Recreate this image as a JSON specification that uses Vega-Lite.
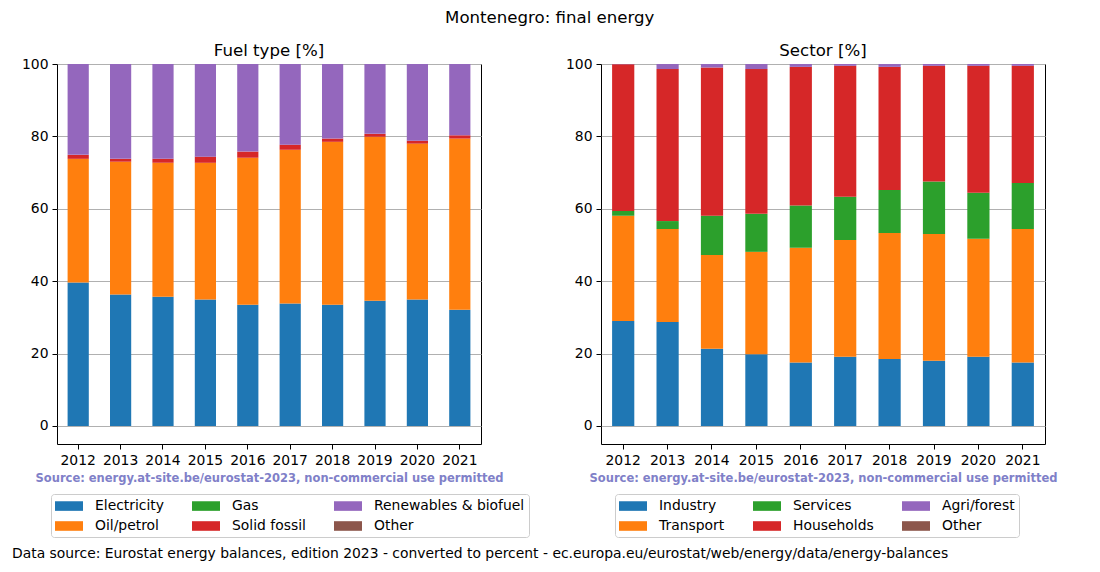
{
  "$schema": "https://vega.github.io/schema/vega-lite/v6.json",
  "padding": {"left": 11, "top": 10, "right": 5, "bottom": 5},
  "background": "white",
  "title": {"text": "Montenegro: final energy", "fontSize": 16.6, "fontWeight": "normal", "font": "DejaVu Sans", "anchor": "middle", "offset": 16, "dx": 15},
  "config": {
    "font": "DejaVu Sans",
    "view": {"stroke": "black", "strokeWidth": 1},
    "axis": {"labelFont": "DejaVu Sans", "labelFontSize": 13.9, "labelColor": "black", "tickColor": "black", "tickSize": 5, "labelPadding": 4, "domain": false},
    "title": {"fontSize": 16.6, "fontWeight": "normal", "offset": -3},
    "legend": {"labelFont": "DejaVu Sans", "labelFontSize": 13.9, "labelColor": "black"}
  },
  "vconcat": [
    {
      "title": {"text": "Data source: Eurostat energy balances, edition 2023 - converted to percent - ec.europa.eu/eurostat/web/energy/data/energy-balances", "orient": "bottom", "anchor": "start", "fontSize": 13.9, "fontWeight": "normal", "dx": -9, "offset": 9},
      "spacing": 34,
      "hconcat": [
        {
          "title": "Fuel type [%]",
          "width": 424,
          "height": 380,
          "data": {"values": [
            {"year": "2012", "cat": "Electricity", "value": 39.6}, {"year": "2012", "cat": "Oil/petrol", "value": 34.2}, {"year": "2012", "cat": "Gas", "value": 0}, {"year": "2012", "cat": "Solid fossil", "value": 1.1}, {"year": "2012", "cat": "Renewables & biofuel", "value": 25.1}, {"year": "2012", "cat": "Other", "value": 0},
            {"year": "2013", "cat": "Electricity", "value": 36.3}, {"year": "2013", "cat": "Oil/petrol", "value": 36.7}, {"year": "2013", "cat": "Gas", "value": 0}, {"year": "2013", "cat": "Solid fossil", "value": 0.8}, {"year": "2013", "cat": "Renewables & biofuel", "value": 26.2}, {"year": "2013", "cat": "Other", "value": 0},
            {"year": "2014", "cat": "Electricity", "value": 35.7}, {"year": "2014", "cat": "Oil/petrol", "value": 37.0}, {"year": "2014", "cat": "Gas", "value": 0}, {"year": "2014", "cat": "Solid fossil", "value": 1.1}, {"year": "2014", "cat": "Renewables & biofuel", "value": 26.2}, {"year": "2014", "cat": "Other", "value": 0},
            {"year": "2015", "cat": "Electricity", "value": 34.9}, {"year": "2015", "cat": "Oil/petrol", "value": 37.8}, {"year": "2015", "cat": "Gas", "value": 0}, {"year": "2015", "cat": "Solid fossil", "value": 1.7}, {"year": "2015", "cat": "Renewables & biofuel", "value": 25.6}, {"year": "2015", "cat": "Other", "value": 0},
            {"year": "2016", "cat": "Electricity", "value": 33.5}, {"year": "2016", "cat": "Oil/petrol", "value": 40.6}, {"year": "2016", "cat": "Gas", "value": 0}, {"year": "2016", "cat": "Solid fossil", "value": 1.7}, {"year": "2016", "cat": "Renewables & biofuel", "value": 24.2}, {"year": "2016", "cat": "Other", "value": 0},
            {"year": "2017", "cat": "Electricity", "value": 33.8}, {"year": "2017", "cat": "Oil/petrol", "value": 42.5}, {"year": "2017", "cat": "Gas", "value": 0}, {"year": "2017", "cat": "Solid fossil", "value": 1.4}, {"year": "2017", "cat": "Renewables & biofuel", "value": 22.3}, {"year": "2017", "cat": "Other", "value": 0},
            {"year": "2018", "cat": "Electricity", "value": 33.5}, {"year": "2018", "cat": "Oil/petrol", "value": 45.0}, {"year": "2018", "cat": "Gas", "value": 0}, {"year": "2018", "cat": "Solid fossil", "value": 0.9}, {"year": "2018", "cat": "Renewables & biofuel", "value": 20.6}, {"year": "2018", "cat": "Other", "value": 0},
            {"year": "2019", "cat": "Electricity", "value": 34.6}, {"year": "2019", "cat": "Oil/petrol", "value": 45.3}, {"year": "2019", "cat": "Gas", "value": 0}, {"year": "2019", "cat": "Solid fossil", "value": 0.8}, {"year": "2019", "cat": "Renewables & biofuel", "value": 19.3}, {"year": "2019", "cat": "Other", "value": 0},
            {"year": "2020", "cat": "Electricity", "value": 34.9}, {"year": "2020", "cat": "Oil/petrol", "value": 43.1}, {"year": "2020", "cat": "Gas", "value": 0}, {"year": "2020", "cat": "Solid fossil", "value": 0.8}, {"year": "2020", "cat": "Renewables & biofuel", "value": 21.2}, {"year": "2020", "cat": "Other", "value": 0},
            {"year": "2021", "cat": "Electricity", "value": 32.1}, {"year": "2021", "cat": "Oil/petrol", "value": 47.3}, {"year": "2021", "cat": "Gas", "value": 0}, {"year": "2021", "cat": "Solid fossil", "value": 0.9}, {"year": "2021", "cat": "Renewables & biofuel", "value": 19.7}, {"year": "2021", "cat": "Other", "value": 0}
          ]},
          "transform": [{"calculate": "indexof(['Electricity','Oil/petrol','Gas','Solid fossil','Renewables & biofuel','Other'], datum.cat)", "as": "ord"}],
          "mark": {"type": "bar"},
          "encoding": {
            "x": {"field": "year", "type": "ordinal", "scale": {"paddingInner": 0.5, "paddingOuter": 0.25},
                  "axis": {"labelAngle": 0, "title": "Source: energy.at-site.be/eurostat-2023, non-commercial use permitted", "titleColor": "#8080c8", "titleFontSize": 11.5, "titleFontWeight": "bold", "titlePadding": 6}},
            "y": {"field": "value", "type": "quantitative", "stack": "zero", "scale": {"domain": [-5, 100], "nice": false, "zero": false},
                  "axis": {"values": [0, 20, 40, 60, 80, 100], "title": null, "grid": true, "gridColor": "#b0b0b0", "gridWidth": 1}},
            "order": {"field": "ord", "type": "quantitative"},
            "color": {"field": "cat", "type": "nominal",
                      "scale": {"domain": ["Electricity", "Gas", "Renewables & biofuel", "Oil/petrol", "Solid fossil", "Other"], "range": ["#1f77b4", "#2ca02c", "#9467bd", "#ff7f0e", "#d62728", "#8c564b"]},
                      "legend": {"title": null, "orient": "none", "legendX": -6, "legendY": 430, "direction": "horizontal", "columns": 3, "columnPadding": 28, "rowPadding": 5, "symbolType": "M-1,-0.6L2.5,-0.6L2.5,0.6L-1,0.6Z", "symbolSize": 256, "symbolStrokeWidth": 0, "labelOffset": 24, "strokeColor": "#cccccc", "cornerRadius": 3, "padding": 4, "symbolOpacity": 1}}
          }
        },
        {
          "title": "Sector [%]",
          "width": 444,
          "height": 380,
          "data": {"values": [
            {"year": "2012", "cat": "Industry", "value": 29.0}, {"year": "2012", "cat": "Transport", "value": 29.1}, {"year": "2012", "cat": "Services", "value": 1.3}, {"year": "2012", "cat": "Households", "value": 40.5}, {"year": "2012", "cat": "Agri/forest", "value": 0.1}, {"year": "2012", "cat": "Other", "value": 0},
            {"year": "2013", "cat": "Industry", "value": 28.7}, {"year": "2013", "cat": "Transport", "value": 25.7}, {"year": "2013", "cat": "Services", "value": 2.2}, {"year": "2013", "cat": "Households", "value": 42.0}, {"year": "2013", "cat": "Agri/forest", "value": 1.4}, {"year": "2013", "cat": "Other", "value": 0},
            {"year": "2014", "cat": "Industry", "value": 21.3}, {"year": "2014", "cat": "Transport", "value": 25.9}, {"year": "2014", "cat": "Services", "value": 10.9}, {"year": "2014", "cat": "Households", "value": 40.9}, {"year": "2014", "cat": "Agri/forest", "value": 1.0}, {"year": "2014", "cat": "Other", "value": 0},
            {"year": "2015", "cat": "Industry", "value": 19.8}, {"year": "2015", "cat": "Transport", "value": 28.3}, {"year": "2015", "cat": "Services", "value": 10.5}, {"year": "2015", "cat": "Households", "value": 40.0}, {"year": "2015", "cat": "Agri/forest", "value": 1.4}, {"year": "2015", "cat": "Other", "value": 0},
            {"year": "2016", "cat": "Industry", "value": 17.5}, {"year": "2016", "cat": "Transport", "value": 31.7}, {"year": "2016", "cat": "Services", "value": 11.7}, {"year": "2016", "cat": "Households", "value": 38.3}, {"year": "2016", "cat": "Agri/forest", "value": 0.8}, {"year": "2016", "cat": "Other", "value": 0},
            {"year": "2017", "cat": "Industry", "value": 19.1}, {"year": "2017", "cat": "Transport", "value": 32.3}, {"year": "2017", "cat": "Services", "value": 11.9}, {"year": "2017", "cat": "Households", "value": 36.2}, {"year": "2017", "cat": "Agri/forest", "value": 0.5}, {"year": "2017", "cat": "Other", "value": 0},
            {"year": "2018", "cat": "Industry", "value": 18.5}, {"year": "2018", "cat": "Transport", "value": 34.8}, {"year": "2018", "cat": "Services", "value": 11.9}, {"year": "2018", "cat": "Households", "value": 34.0}, {"year": "2018", "cat": "Agri/forest", "value": 0.8}, {"year": "2018", "cat": "Other", "value": 0},
            {"year": "2019", "cat": "Industry", "value": 18.0}, {"year": "2019", "cat": "Transport", "value": 35.0}, {"year": "2019", "cat": "Services", "value": 14.5}, {"year": "2019", "cat": "Households", "value": 32.0}, {"year": "2019", "cat": "Agri/forest", "value": 0.5}, {"year": "2019", "cat": "Other", "value": 0},
            {"year": "2020", "cat": "Industry", "value": 19.1}, {"year": "2020", "cat": "Transport", "value": 32.6}, {"year": "2020", "cat": "Services", "value": 12.7}, {"year": "2020", "cat": "Households", "value": 35.1}, {"year": "2020", "cat": "Agri/forest", "value": 0.5}, {"year": "2020", "cat": "Other", "value": 0},
            {"year": "2021", "cat": "Industry", "value": 17.5}, {"year": "2021", "cat": "Transport", "value": 36.9}, {"year": "2021", "cat": "Services", "value": 12.7}, {"year": "2021", "cat": "Households", "value": 32.4}, {"year": "2021", "cat": "Agri/forest", "value": 0.5}, {"year": "2021", "cat": "Other", "value": 0}
          ]},
          "transform": [{"calculate": "indexof(['Industry','Transport','Services','Households','Agri/forest','Other'], datum.cat)", "as": "ord"}],
          "mark": {"type": "bar"},
          "encoding": {
            "x": {"field": "year", "type": "ordinal", "scale": {"paddingInner": 0.5, "paddingOuter": 0.25},
                  "axis": {"labelAngle": 0, "title": "Source: energy.at-site.be/eurostat-2023, non-commercial use permitted", "titleColor": "#8080c8", "titleFontSize": 11.5, "titleFontWeight": "bold", "titlePadding": 6}},
            "y": {"field": "value", "type": "quantitative", "stack": "zero", "scale": {"domain": [-5, 100], "nice": false, "zero": false},
                  "axis": {"values": [0, 20, 40, 60, 80, 100], "title": null, "grid": true, "gridColor": "#b0b0b0", "gridWidth": 1}},
            "order": {"field": "ord", "type": "quantitative"},
            "color": {"field": "cat", "type": "nominal",
                      "scale": {"domain": ["Industry", "Services", "Agri/forest", "Transport", "Households", "Other"], "range": ["#1f77b4", "#2ca02c", "#9467bd", "#ff7f0e", "#d62728", "#8c564b"]},
                      "legend": {"title": null, "orient": "none", "legendX": 14, "legendY": 430, "direction": "horizontal", "columns": 3, "columnPadding": 28, "rowPadding": 5, "symbolType": "M-1,-0.6L2.5,-0.6L2.5,0.6L-1,0.6Z", "symbolSize": 256, "symbolStrokeWidth": 0, "labelOffset": 24, "strokeColor": "#cccccc", "cornerRadius": 3, "padding": 4, "symbolOpacity": 1}}
          }
        }
      ],
      "resolve": {"scale": {"color": "independent"}, "legend": {"color": "independent"}}
    }
  ]
}
